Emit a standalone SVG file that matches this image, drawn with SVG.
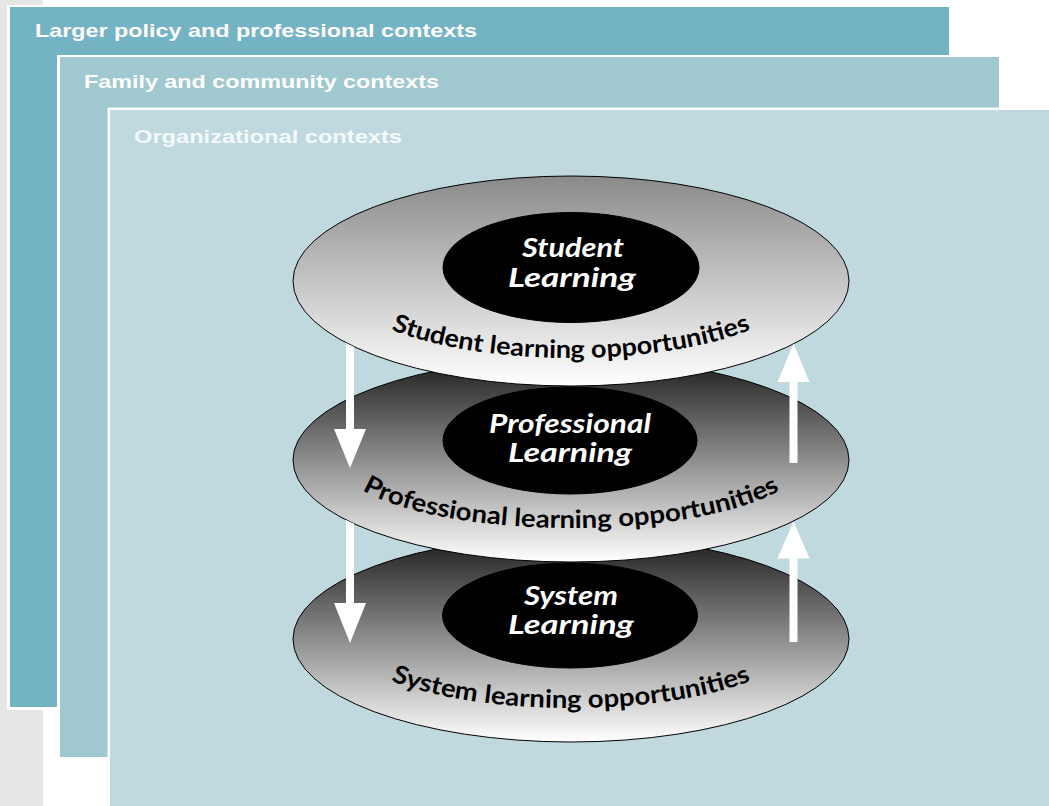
<svg xmlns="http://www.w3.org/2000/svg" width="1049" height="806" viewBox="0 0 1049 806">
  <style>
    .ctx-title { font-family: "Liberation Sans", Arial, sans-serif; font-weight: bold; font-size: 19px; fill: #ffffff; }
    .disc { stroke: #000; stroke-width: 1; }
    .core { fill: #000; stroke: #000; stroke-width: 1; }
    .core-text { font-family: Lato, "DejaVu Sans", sans-serif; font-weight: bold; font-style: italic; font-size: 26px; fill: #ffffff; text-anchor: middle; }
    .ring-text { font-family: Lato, "DejaVu Sans", sans-serif; font-weight: bold; font-size: 25px; fill: #000; text-anchor: middle; }
    .arrow { fill: #ffffff; }
  </style>
  <defs>
    <linearGradient id="gTop" x1="0" y1="0" x2="0" y2="1">
      <stop offset="0" stop-color="#8a8a8a"/>
      <stop offset="1" stop-color="#ffffff"/>
    </linearGradient>
    <linearGradient id="gDark" x1="0" y1="0" x2="0" y2="1">
      <stop offset="0" stop-color="#1c1c1c"/>
      <stop offset="1" stop-color="#ffffff"/>
    </linearGradient>
    <path id="arcTop" d="M 339,281 A 232 77 0 0 0 803,281"/>
    <path id="arcMid" d="M 338,460 A 233 68 0 0 0 804,460"/>
    <path id="arcBot" d="M 345,639 A 226 69 0 0 0 797,639"/>
  </defs>

  <rect x="0" y="0" width="1049" height="806" fill="#ffffff"/>
  <rect x="0" y="0" width="43" height="806" fill="#e6e6e6"/>

  <g id="ctx-larger">
    <rect x="7" y="5" width="943" height="705" fill="#ffffff"/>
    <rect x="10" y="7" width="939" height="700" fill="#74b3c4"/>
    <text class="ctx-title" x="35" y="36.5" textLength="442" lengthAdjust="spacingAndGlyphs">Larger policy and professional contexts</text>
  </g>
  <g id="ctx-family">
    <rect x="57" y="55" width="943" height="703" fill="#ffffff"/>
    <rect x="60" y="57" width="939" height="700" fill="#9fc8d1"/>
    <text class="ctx-title" x="84" y="88" textLength="355" lengthAdjust="spacingAndGlyphs">Family and community contexts</text>
  </g>
  <g id="ctx-org">
    <rect x="107.5" y="107.5" width="942" height="699" fill="#ffffff"/>
    <rect x="110" y="110" width="939" height="696" fill="#bfd9df"/>
    <text class="ctx-title" x="134" y="142.5" textLength="268" lengthAdjust="spacingAndGlyphs" style="fill:#f5f9fa">Organizational contexts</text>
  </g>

  <g id="system-level">
    <ellipse class="disc" cx="571" cy="639" rx="278" ry="103" fill="url(#gDark)"/>
    <ellipse class="core" cx="570" cy="615.5" rx="127.5" ry="52.5"/>
    <text class="core-text" x="571" y="605" textLength="94" lengthAdjust="spacingAndGlyphs">System</text>
    <text class="core-text" x="571" y="634" textLength="126" lengthAdjust="spacingAndGlyphs">Learning</text>
    <text class="ring-text"><textPath href="#arcBot" startOffset="50%" textLength="366" lengthAdjust="spacingAndGlyphs">System learning opportunities</textPath></text>
  </g>

  <g id="professional-level">
    <ellipse class="disc" cx="571" cy="460" rx="278" ry="102" fill="url(#gDark)"/>
    <ellipse class="core" cx="570" cy="440.5" rx="127" ry="53.5"/>
    <text class="core-text" x="570" y="433" textLength="162" lengthAdjust="spacingAndGlyphs">Professional</text>
    <text class="core-text" x="570" y="462" textLength="124" lengthAdjust="spacingAndGlyphs">Learning</text>
    <text class="ring-text"><textPath href="#arcMid" startOffset="50%" textLength="428" lengthAdjust="spacingAndGlyphs">Professional learning opportunities</textPath></text>
  </g>

  <g id="student-level">
    <ellipse class="disc" cx="571" cy="281" rx="278" ry="105" fill="url(#gTop)"/>
    <ellipse class="core" cx="571" cy="267.5" rx="128" ry="55"/>
    <text class="core-text" x="573" y="257" textLength="102" lengthAdjust="spacingAndGlyphs">Student</text>
    <text class="core-text" x="572" y="287" textLength="128" lengthAdjust="spacingAndGlyphs">Learning</text>
    <text class="ring-text"><textPath href="#arcTop" startOffset="50%" textLength="366" lengthAdjust="spacingAndGlyphs">Student learning opportunities</textPath></text>
  </g>

  <g id="connectors">
    <polygon class="arrow" points="346,343 354,347 354,429 366,429 350,468 334,429 346,429"/>
    <polygon class="arrow" points="793.5,343.5 809.5,382 797.5,382 797.5,463 789.5,463 789.5,382 777.5,382"/>
    <polygon class="arrow" points="346,520 354,523.8 354,603 366,603 350,643 334,603 346,603"/>
    <polygon class="arrow" points="793.5,521.5 809.5,558.5 797.5,558.5 797.5,642 789.5,642 789.5,558.5 777.5,558.5"/>
  </g>
</svg>
